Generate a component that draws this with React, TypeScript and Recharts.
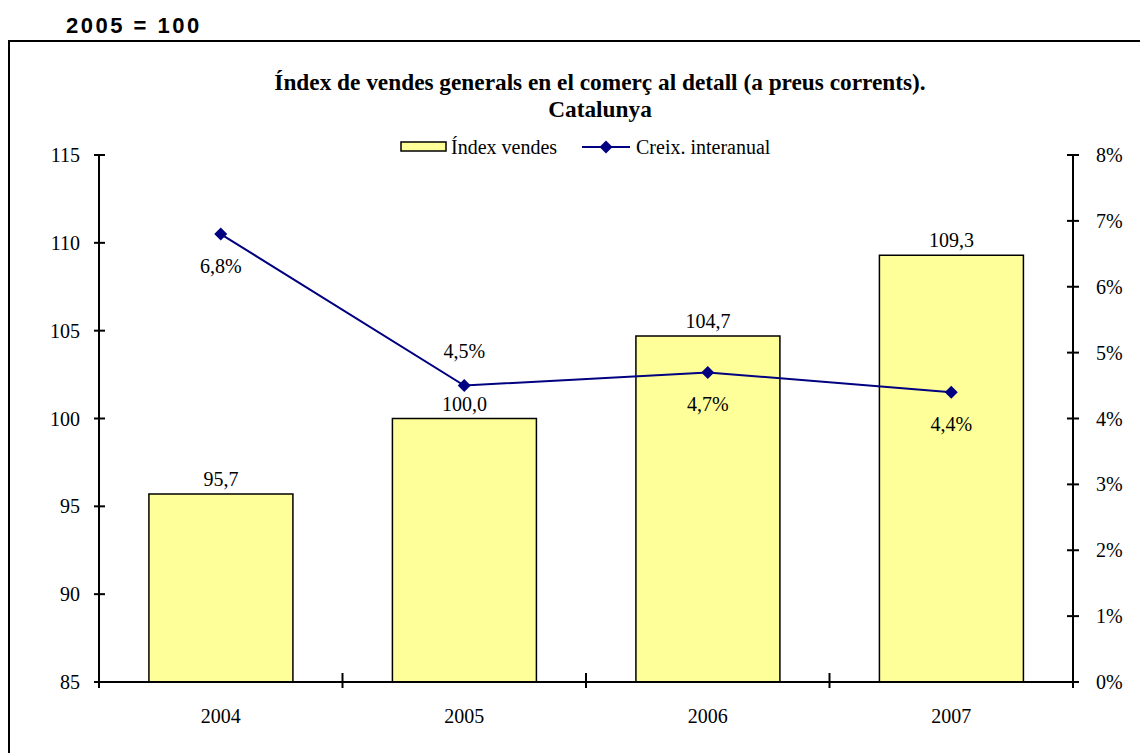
import { Bar, ComposedChart, LabelList, Line, XAxis, YAxis } from 'recharts';

const years = ['2004', '2005', '2006', '2007'];
const salesIndex = [95.7, 100.0, 104.7, 109.3];
const yoyGrowth = [6.8, 4.5, 4.7, 4.4];
const leftTicks = [85, 90, 95, 100, 105, 110, 115];
const rightTicks = [0, 1, 2, 3, 4, 5, 6, 7, 8];
// where each growth label sits relative to its point
const growthLabelSide = ['below', 'above', 'below', 'below'];

const chartData = years.map((year, i) => ({
    year,
    index: salesIndex[i],
    growth: yoyGrowth[i],
}));

// serif text just inherits the page's default serif face
const SANS = '"Liberation Sans", Arial, sans-serif';
const NAVY = '#000080';

function fmt(v: number, digits: number): string {
    return v.toFixed(digits).replace('.', ',');
}

function LeftTick({ x, y, payload }: any) {
    const axisX = x + 5 + 14;
    return (
        <g>
            <line x1={axisX} x2={axisX + 6} y1={y} y2={y} stroke="#000" strokeWidth={2} />
            <text x={x} y={y} dy="0.35em" textAnchor="end" fontSize={20} fill="#000">
                {payload.value}
            </text>
        </g>
    );
}

function RightTick({ x, y, payload }: any) {
    const axisX = x - 6 - 17;
    return (
        <g>
            <line x1={axisX - 6} x2={axisX} y1={y} y2={y} stroke="#000" strokeWidth={2} />
            <text x={x} y={y} dy="0.35em" textAnchor="start" fontSize={20} fill="#000">
                {`${payload.value}%`}
            </text>
        </g>
    );
}

function CategoryTick({ x, y, payload, index }: any) {
    const axisY = y - 8;
    const half = payload.offset ?? 0;
    const marks = [x - half];
    if (index === years.length - 1) {
        marks.push(x + half);
    }
    return (
        <g>
            {marks.map((mx) => (
                <line key={mx} x1={mx} x2={mx} y1={axisY - 9} y2={axisY + 6} stroke="#000" strokeWidth={2} />
            ))}
            <text x={x} y={axisY + 41} textAnchor="middle" fontSize={20} fill="#000">
                {payload.value}
            </text>
        </g>
    );
}

function Diamond({ cx, cy }: any) {
    const r = 6.5;
    return (
        <polygon
            points={`${cx},${cy - r} ${cx + r},${cy} ${cx},${cy + r} ${cx - r},${cy}`}
            fill={NAVY}
        />
    );
}

function GrowthLabel({ x, y, value, index }: any) {
    const below = growthLabelSide[index] === 'below';
    return (
        <text x={x} y={below ? y + 39 : y - 28} textAnchor="middle" fontSize={20} fill="#000">
            {`${fmt(value, 1)}%`}
        </text>
    );
}

export default function App() {
    return (
        <div
            style={{
                position: 'absolute',
                left: 0,
                top: 0,
                width: 1140,
                height: 753,
                overflow: 'hidden',
                background: '#fff',
            }}
        >
            <svg
                width={1140}
                height={753}
                style={{ position: 'absolute', left: 0, top: 0, pointerEvents: 'none' }}
            >
                <path d="M9,800 V41 H1140" fill="none" stroke="#000" strokeWidth={2} />
                <text x={66} y={33} fontFamily={SANS} fontWeight="bold" fontSize={22} letterSpacing={2.5} fill="#000">
                    2005 = 100
                </text>
                <text x={600} y={90} textAnchor="middle" fontWeight="bold" fontSize={23.3} fill="#000">
                    Índex de vendes generals en el comerç al detall (a preus corrents).
                </text>
                <text x={600} y={117} textAnchor="middle" fontWeight="bold" fontSize={23.3} fill="#000">
                    Catalunya
                </text>
                <rect x={401} y={142} width={45} height={9} fill="#FFFF99" stroke="#000" strokeWidth={1.5} />
                <text x={451} y={154} fontSize={20} fill="#000">
                    Índex vendes
                </text>
                <line x1={582} x2={630} y1={147} y2={147} stroke={NAVY} strokeWidth={2} />
                <Diamond cx={606} cy={147} />
                <text x={636} y={154} fontSize={20} fill="#000">
                    Creix. interanual
                </text>
            </svg>
            <div style={{ position: 'absolute', left: 0, top: 0 }}>
                <ComposedChart
                    width={1140}
                    height={753}
                    data={chartData}
                    margin={{ top: 155, right: 0, bottom: 41, left: 0 }}
                    barCategoryGap="20.5%"
                >
                    <XAxis
                        dataKey="year"
                        height={30}
                        tickLine={false}
                        tickSize={8}
                        tickMargin={0}
                        axisLine={{ stroke: '#000', strokeWidth: 2 }}
                        tick={<CategoryTick />}
                        interval={0}
                    />
                    <YAxis
                        yAxisId="left"
                        orientation="left"
                        width={99}
                        domain={[85, 115]}
                        ticks={leftTicks}
                        allowDataOverflow
                        tickSize={5}
                        tickMargin={14}
                        tickLine={{ stroke: '#000', strokeWidth: 2 }}
                        axisLine={{ stroke: '#000', strokeWidth: 2 }}
                        tick={<LeftTick />}
                        interval={0}
                    />
                    <YAxis
                        yAxisId="right"
                        orientation="right"
                        width={67}
                        domain={[0, 8]}
                        ticks={rightTicks}
                        tickSize={6}
                        tickMargin={17}
                        tickLine={{ stroke: '#000', strokeWidth: 2 }}
                        axisLine={{ stroke: '#000', strokeWidth: 2 }}
                        tick={<RightTick />}
                        interval={0}
                    />
                    <Bar
                        yAxisId="left"
                        dataKey="index"
                        fill="#FFFF99"
                        stroke="#000"
                        strokeWidth={1.5}
                        isAnimationActive={false}
                    >
                        <LabelList
                            dataKey="index"
                            position="top"
                            offset={8}
                            formatter={(v: any) => fmt(Number(v), 1)}
                            fontSize={20}
                            fill="#000"
                        />
                    </Bar>
                    <Line
                        yAxisId="right"
                        dataKey="growth"
                        stroke={NAVY}
                        strokeWidth={2}
                        dot={<Diamond />}
                        activeDot={false}
                        isAnimationActive={false}
                    >
                        <LabelList dataKey="growth" content={<GrowthLabel />} />
                    </Line>
                </ComposedChart>
            </div>
        </div>
    );
}
